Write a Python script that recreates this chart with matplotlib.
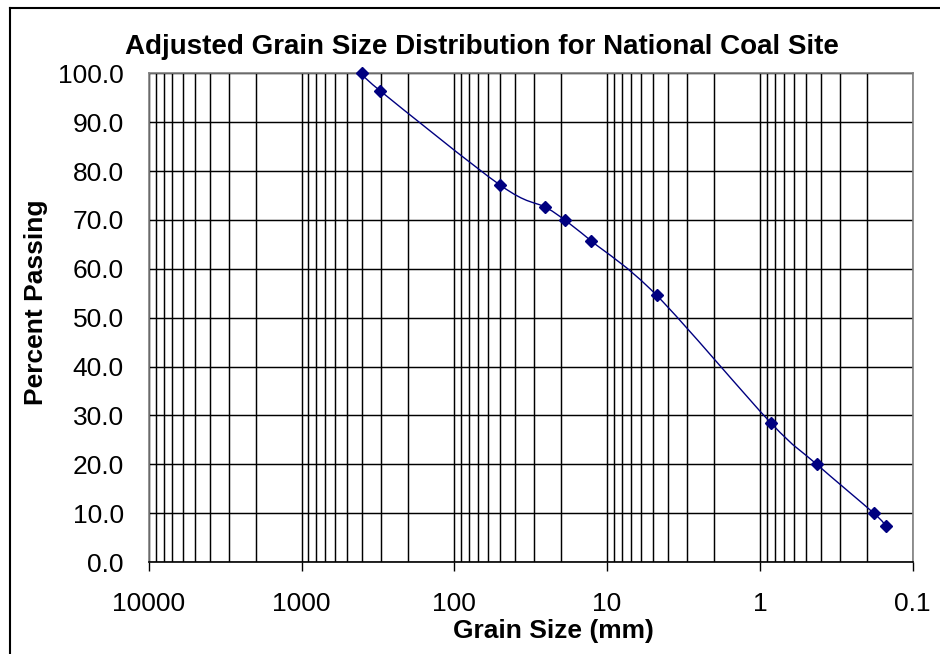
import numpy as np
import matplotlib
matplotlib.use('Agg')
import matplotlib.pyplot as plt
from matplotlib.path import Path
from matplotlib.patches import PathPatch
from matplotlib.lines import Line2D
from matplotlib.ticker import FixedLocator, LogLocator, FuncFormatter, NullFormatter

plt.rcParams['font.family'] = ['Liberation Sans', 'DejaVu Sans']

# sieve data
grain_mm = [400, 305, 50, 25.4, 19.0, 12.7, 4.75, 0.85, 0.425, 0.18, 0.15]
passing = [100.0, 96.4, 77.1, 72.6, 70.0, 65.7, 54.6, 28.5, 20.0, 10.0, 7.4]
x_ticks = [10000, 1000, 100, 10, 1, 0.1]
x_labels = ['10000', '1000', '100', '10', '1', '0.1']
y_ticks = [0, 10, 20, 30, 40, 50, 60, 70, 80, 90, 100]

navy = '#000080'
W, H = 940, 654

fig = plt.figure(figsize=(W / 100, H / 100), dpi=100)
ax = fig.add_axes([148.7 / W, 1 - 562 / H, (912.7 - 148.7) / W, (562 - 73.3) / H])

ax.set_xscale('log')
ax.set_xlim(10000, 0.1)
ax.set_ylim(0, 100)

# excel style smoothed line (bezier through the points, in log space)
pts = np.column_stack([np.log10(grain_mm), passing])
n = len(pts)
verts = [pts[0]]
codes = [Path.MOVETO]
for i in range(n - 1):
    p0 = pts[max(i - 1, 0)]
    p1 = pts[i]
    p2 = pts[i + 1]
    p3 = pts[min(i + 2, n - 1)]
    verts += [p1 + (p2 - p0) / 6, p2 - (p3 - p1) / 6, p2]
    codes += [Path.CURVE4] * 3
verts = np.array(verts)
verts[:, 0] = 10 ** verts[:, 0]
ax.add_patch(PathPatch(Path(verts, codes), facecolor='none', edgecolor=navy,
                       lw=1.0, zorder=3, clip_on=False))
ax.plot(grain_mm, passing, linestyle='none', marker='D', ms=6,
        color=navy, zorder=4, clip_on=False)

ax.xaxis.set_major_locator(FixedLocator(x_ticks))
ax.set_xticklabels(x_labels)
ax.xaxis.set_minor_locator(LogLocator(base=10, subs=np.arange(2, 10), numticks=20))
ax.xaxis.set_minor_formatter(NullFormatter())
ax.yaxis.set_major_locator(FixedLocator(y_ticks))
ax.yaxis.set_major_formatter(FuncFormatter(lambda v, p: '%.1f' % v))

ax.grid(True, which='both', axis='x', color='black', lw=1.05)
ax.grid(True, which='major', axis='y', color='black', lw=1.05)
ax.set_axisbelow(True)

ax.tick_params(axis='x', which='major', length=6.3, width=1, color='black',
               labelsize=19, pad=15)
ax.tick_params(axis='x', which='minor', length=0)
ax.tick_params(axis='y', length=0, labelsize=19, pad=18)

for s in ['left', 'top', 'right']:
    ax.spines[s].set_color('#808080')
    ax.spines[s].set_linewidth(1.2)
ax.spines['bottom'].set_color('black')
ax.spines['bottom'].set_linewidth(1.2)

fig.text(482 / W, 1 - 53.5 / H, 'Adjusted Grain Size Distribution for National Coal Site',
         ha='center', va='baseline', fontsize=20, fontweight='bold')
fig.text(553.5 / W, 1 - 638 / H, 'Grain Size (mm)', ha='center', va='baseline',
         fontsize=19, fontweight='bold')
fig.text(35.7 / W, 1 - 302.5 / H, 'Percent Passing', ha='center', va='center',
         rotation=90, fontsize=19, fontweight='bold')

# outer chart border (only top and left show in the picture)
fig.add_artist(Line2D([10 / W, 1], [1 - 8 / H, 1 - 8 / H], color='black', lw=1.5))
fig.add_artist(Line2D([10 / W, 10 / W], [0, 1 - 8 / H], color='black', lw=1.5))

fig.savefig('out.png', dpi=100)
